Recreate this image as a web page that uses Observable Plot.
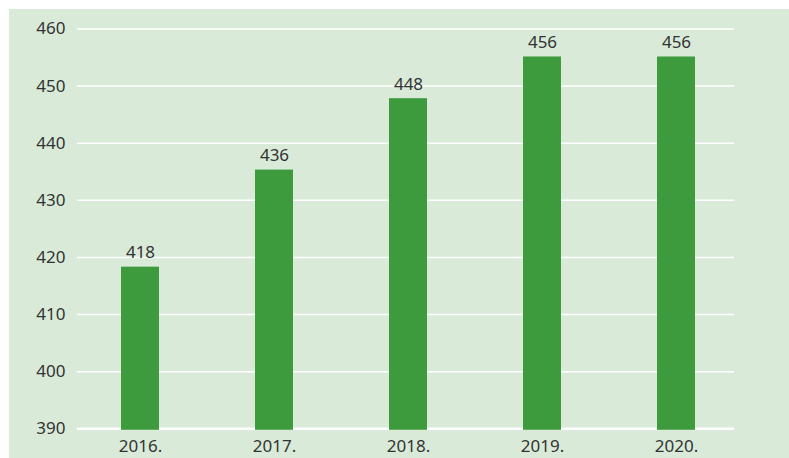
<!DOCTYPE html>
<html>
<head>
<meta charset="utf-8">
<script src="https://cdn.jsdelivr.net/npm/d3@7"></script>
<script src="https://cdn.jsdelivr.net/npm/@observablehq/plot@0.6"></script>
<style>
  html, body { margin: 0; padding: 0; background: #ffffff; }
  #wrap { padding: 9px 0 0 9px; width: 780px; }
  svg { display: block; }
</style>
</head>
<body>
<div id="wrap"></div>
<script>
const years = ["2016.", "2017.", "2018.", "2019.", "2020."];
const barValues = [418.3, 435.3, 447.8, 455.1, 455.1];
const valueLabels = ["418", "436", "448", "456", "456"];
const yTicks = [390, 400, 410, 420, 430, 440, 450, 460];

const data = years.map((y, i) => ({year: y, value: barValues[i], label: valueLabels[i]}));

const chart = Plot.plot({
  width: 780,
  height: 449,
  marginLeft: 68,
  marginRight: 55,
  marginTop: 19.5,
  marginBottom: 29.7,
  style: {
    background: "#d9ebd8",
    fontFamily: "'Noto Sans', sans-serif",
    fontSize: "17px",
    color: "#333333",
    overflow: "visible"
  },
  x: {domain: years, paddingInner: 0.718, paddingOuter: 0.297, align: 0.525, label: null},
  y: {domain: [390, 460], label: null},
  marks: [
    Plot.ruleY(yTicks.filter(t => t !== 390), {stroke: "#ffffff", strokeWidth: 1.5}),
    Plot.ruleY([390], {stroke: "#ffffff", strokeWidth: 2.5}),
    Plot.barY(data, {x: "year", y1: 390, y2: "value", fill: "#3d9b3e", insetBottom: -1.5}),
    Plot.text(data, {x: "year", y: "value", text: "label", lineAnchor: "bottom", dy: -9, fill: "#333333", fontSize: 17}),
    Plot.axisY(yTicks, {tickSize: 0, tickPadding: 12, fontSize: 17, fill: "#333333", label: null}),
    Plot.axisX({tickSize: 0, tickPadding: 11, fontSize: 17, fill: "#333333", label: null})
  ]
});
document.getElementById("wrap").appendChild(chart);
</script>
</body>
</html>
